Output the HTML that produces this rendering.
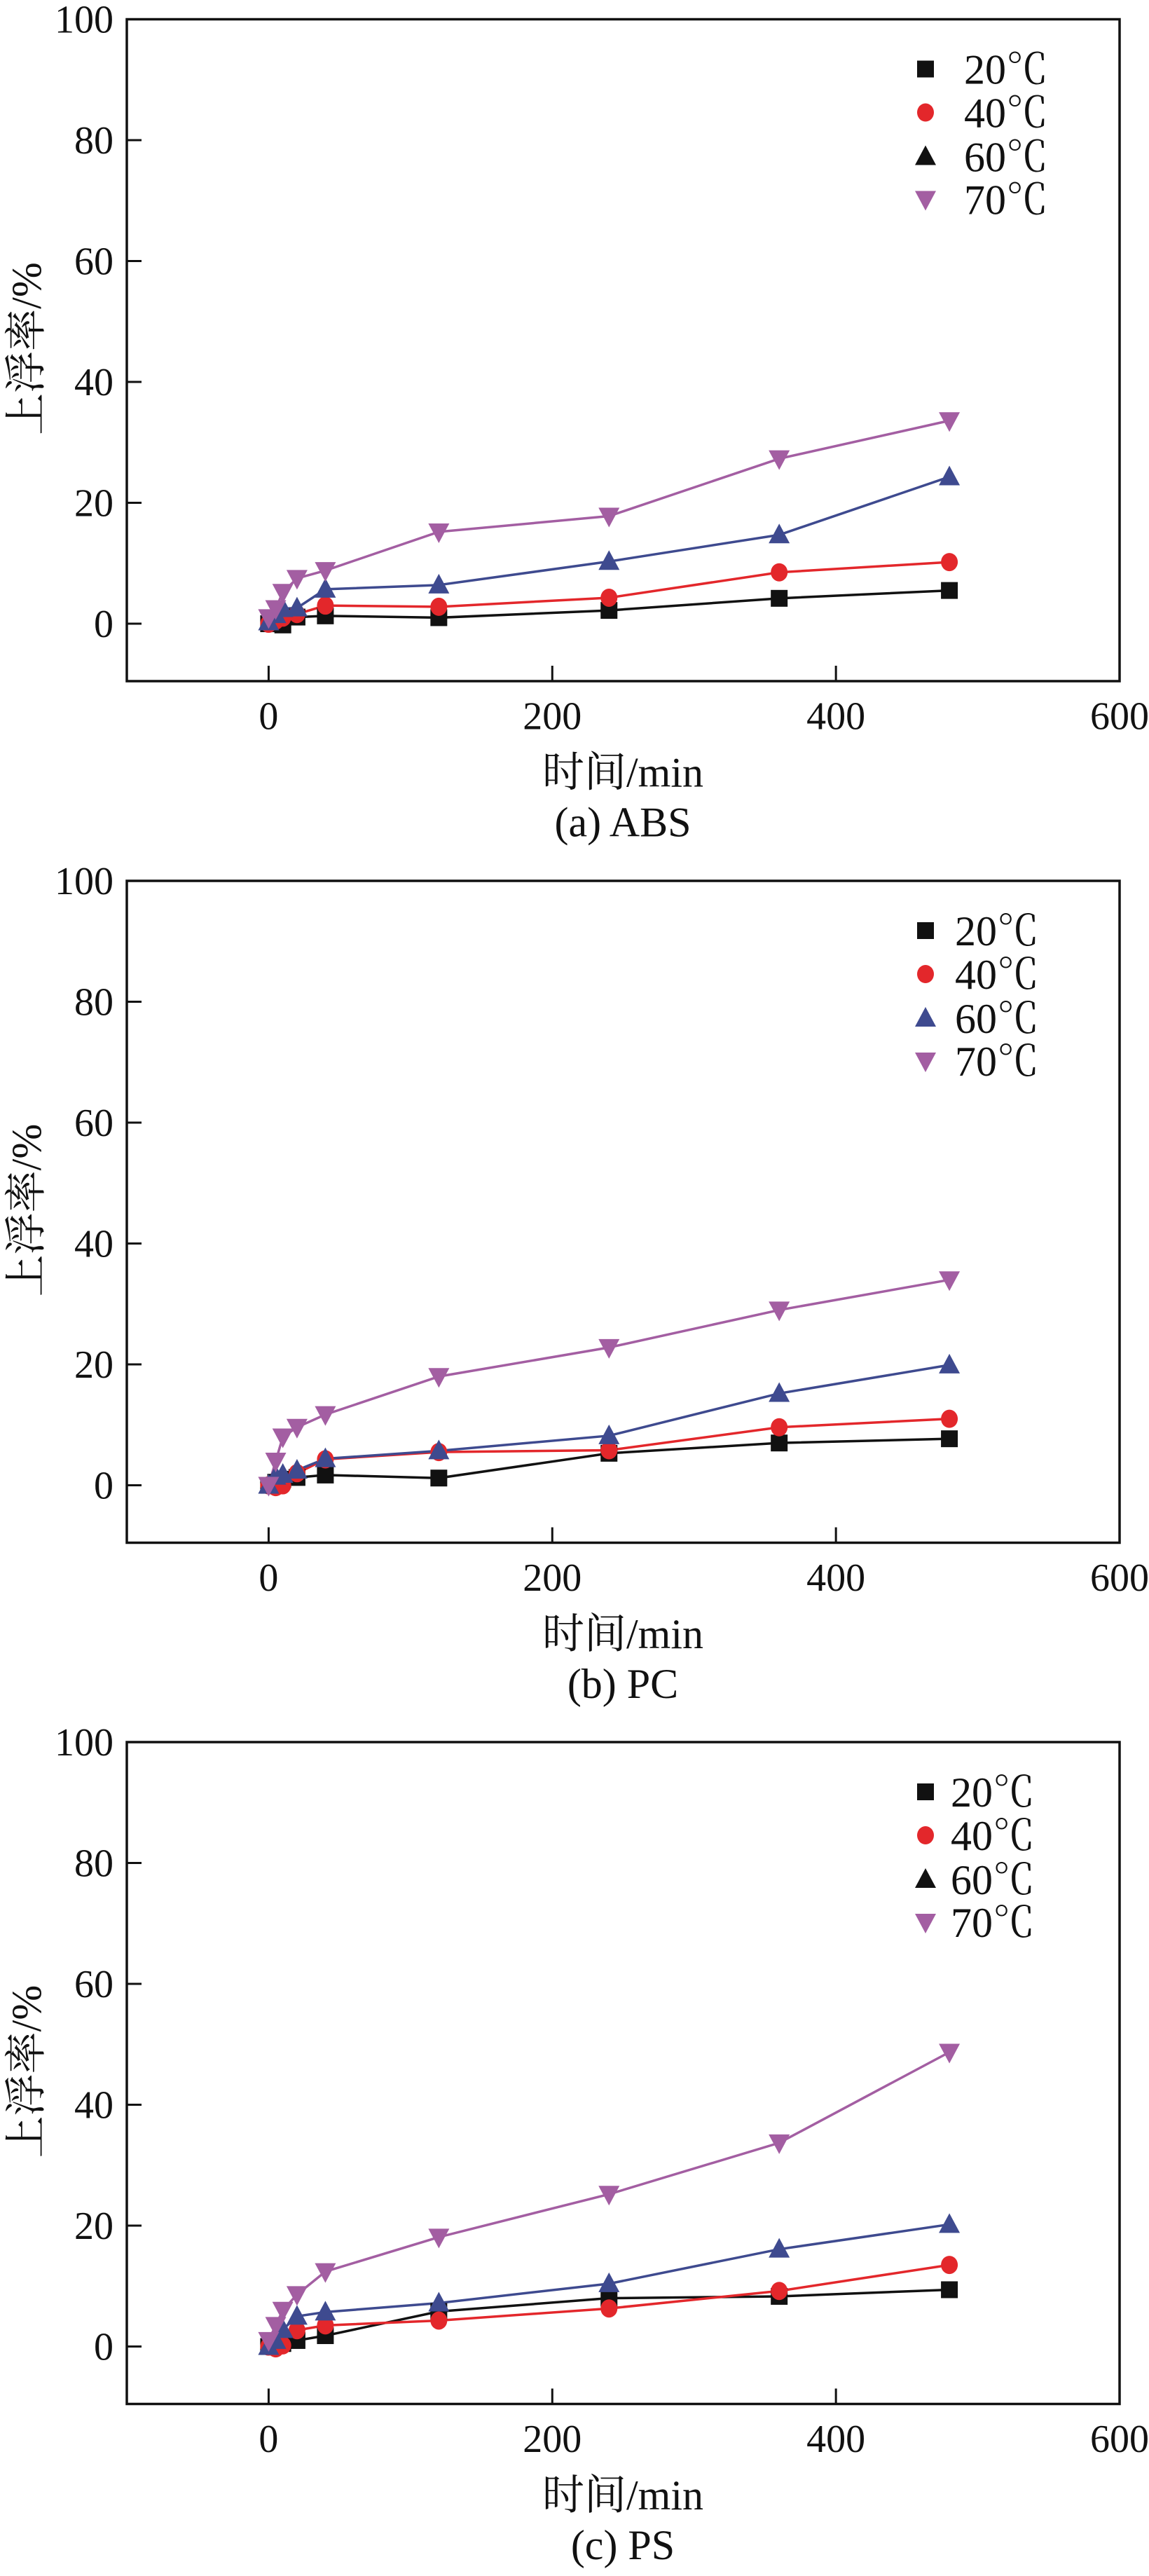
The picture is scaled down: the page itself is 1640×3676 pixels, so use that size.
<!DOCTYPE html>
<html><head><meta charset="utf-8"><style>
html,body{margin:0;padding:0;background:#fff;}
svg{display:block;}
text{font-family:"Liberation Serif","Noto Serif CJK SC",serif;fill:#111;}
</style></head><body>
<svg id="chart" width="1640" height="3676" viewBox="0 0 1640 3676" xmlns="http://www.w3.org/2000/svg"></svg>
<script>
const times = [0,5,10,20,40,120,240,360,480];
const seriesLabels = ["20℃","40℃","60℃","70℃"];
const xTicks = [0,200,400,600];
const yTicks = [0,20,40,60,80,100];
const panelCaptions = ["(a) ABS","(b) PC","(c) PS"];
const absT20 = [0,0,-0.2,1.1,1.3,1.0,2.2,4.2,5.5];
const absT40 = [0,0.5,1.0,1.6,3.0,2.8,4.3,8.5,10.2];
const absT60 = [0.3,1.5,2.5,2.6,5.7,6.4,10.3,14.7,24.3];
const absT70 = [1.0,2.5,5.2,7.5,8.8,15.2,17.8,27.3,33.6];
const pcT20 = [0,0.5,1.0,1.3,1.7,1.2,5.3,7.0,7.7];
const pcT40 = [0,-0.3,0,2.0,4.3,5.5,5.8,9.6,11.0];
const pcT60 = [0,1.5,1.8,2.5,4.4,5.7,8.2,15.2,19.9];
const pcT70 = [0,4.0,8.0,9.6,11.7,18.0,22.8,29.0,34.0];
const psT20 = [0,0.3,0.5,1.0,1.8,5.8,8.0,8.3,9.4];
const psT40 = [0,-0.3,0.2,2.7,3.5,4.3,6.3,9.2,13.5];
const psT60 = [0,1.0,2.8,5.0,5.7,7.2,10.4,16.1,20.2];
const psT70 = [1.0,3.5,6.0,8.6,12.4,18.1,25.2,33.7,48.7];
const panelData = [[absT20,absT40,absT60,absT70],[pcT20,pcT40,pcT60,pcT70],[psT20,psT40,psT60,psT70]];

const NS="http://www.w3.org/2000/svg";
const svg=document.getElementById('chart');
const colors=["#111111","#e3272b","#3e4a8f","#a35ea2"];
const markers=["square","circle","up","down"];
const legend60=["#111111","#3e4a8f","#111111"];
const legendTextX=[1376,1363,1357];
const panelTops=[27.5,1257,2486];
const L=181,R=1598,H=944.5;
const xMin=-100,xMax=600,yMin=-9.5,yMax=100;

function mk(tag,attrs,parent){const e=document.createElementNS(NS,tag);for(const k in attrs)e.setAttribute(k,attrs[k]);(parent||svg).appendChild(e);return e;}
function marker(kind,cx,cy,color,g){
  let e;
  if(kind==="square")e=mk('rect',{x:cx-12,y:cy-12,width:24,height:24,fill:color},g);
  else if(kind==="circle")e=mk('ellipse',{cx:cx,cy:cy,rx:12,ry:13,fill:color},g);
  else if(kind==="up")e=mk('polygon',{points:`${cx},${cy-16} ${cx-15},${cy+12} ${cx+15},${cy+12}`,fill:color},g);
  else e=mk('polygon',{points:`${cx},${cy+16} ${cx-15},${cy-12} ${cx+15},${cy-12}`,fill:color},g);
  return e;
}

panelTops.forEach((top,p)=>{
  const B=top+H;
  const xs=v=>L+(v-xMin)/(xMax-xMin)*(R-L);
  const ys=v=>B-(v-yMin)/(yMax-yMin)*(B-top);
  const g=mk('g',{});
  
  
  const frame=mk('rect',{x:L,y:top,width:R-L,height:B-top,fill:'none',stroke:'#111','stroke-width':3.5},g);
  
  
  yTicks.forEach(v=>{
    const y=ys(v);
    const t=mk('line',{x1:L,x2:L+21,y1:y,y2:y,stroke:'#111','stroke-width':3},g);
    
    
    const lb=mk('text',{x:162,y:y+19,'text-anchor':'end','font-size':56},g);
    lb.textContent=v;
    
    
  });
  xTicks.forEach(v=>{
    const x=xs(v);
    const t=mk('line',{x1:x,x2:x,y1:B,y2:B-22,stroke:'#111','stroke-width':3},g);
    
    
    const lb=mk('text',{x:x,y:top+1013,'text-anchor':'middle','font-size':56},g);
    lb.textContent=v;
    
    
  });
  const yt=mk('text',{x:0,y:0,'text-anchor':'middle','font-size':60,transform:`translate(58,${top+470}) rotate(-90)`},g);
  yt.textContent="上浮率/%";
  
  
  const xt=mk('text',{x:889,y:top+1095,'text-anchor':'middle','font-size':60},g);
  xt.textContent="时间/min";
  
  
  const cap=mk('text',{x:889,y:top+1166,'text-anchor':'middle','font-size':60},g);
  cap.textContent=panelCaptions[p];
  
  
  panelData[p].forEach((vals,s)=>{
    const pts=vals.map((v,i)=>xs(times[i])+','+ys(v)).join(' ');
    const ln=mk('polyline',{points:pts,fill:'none',stroke:colors[s],'stroke-width':3.5},g);
    
    
  });
  panelData[p].forEach((vals,s)=>{
    vals.forEach((v,i)=>{
      const m=marker(markers[s],xs(times[i]),ys(v),colors[s],g);
      
      
    });
  });
  const offs=[71,133,196,257];
  seriesLabels.forEach((lab,s)=>{
    const y=top+offs[s];
    const c=s===2?legend60[p]:colors[s];
    const m=marker(markers[s],1321,y,c,g);
    
    
    const tx=mk('text',{x:legendTextX[p],y:y+21,'font-size':60},g);
    tx.textContent=lab;
    
    
  });
});
</script>
</body></html>
